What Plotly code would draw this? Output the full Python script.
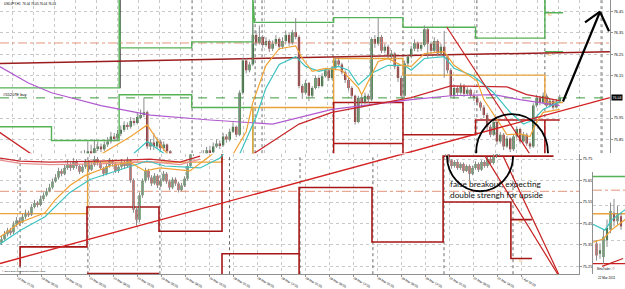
import plotly.graph_objects as go

W, H = 625, 289

# ============ main window: USDJPY,H1 (bar index, price) ============
top_first_bar = 24
top_first_open = 75.780
top_close = [75.771, 75.780, 75.794, 75.785, 75.808, 75.817, 75.803, 75.826, 75.840, 75.863, 75.854, 75.876,
             75.895, 75.918, 75.909, 75.936, 75.927, 75.955, 75.964, 75.977,
             75.817,
             75.835, 75.817, 75.840, 75.808, 75.826,
             75.794, 75.771, 75.748, 75.762, 75.734, 75.725, 75.744, 75.716, 75.734, 75.757, 75.771,
             75.780, 75.799, 75.790, 75.817, 75.831, 75.822,
             75.863, 75.849, 75.886, 75.909, 75.872,
             76.069, 76.221, 76.175, 76.202, 76.340,
             76.303, 76.331, 76.294, 76.312, 76.276, 76.299, 76.322, 76.285,
             76.312, 76.340, 76.303, 76.354, 76.331,
             76.101,
             76.069, 76.115, 76.055, 76.092, 76.138, 76.101,
             76.147, 76.175, 76.138, 76.184, 76.221, 76.202, 76.166,
             76.129, 76.092, 76.055, 75.932,
             76.046,
             76.023, 76.055, 76.037,
             76.322,
             76.299, 76.331, 76.267, 76.285, 76.239, 76.253,
             76.193, 76.138, 76.055,
             76.207, 76.239, 76.276,
             76.303, 76.276, 76.294,
             76.367,
             76.299, 76.267, 76.312, 76.253, 76.285,
             76.239,
             76.175, 76.055,
             76.092, 76.069, 76.101, 76.064, 76.083, 76.055,
             76.046, 76.023, 76.000,
             75.964, 75.909, 75.872,
             75.932, 75.840,
             75.872, 75.817, 75.854, 75.803,
             75.863, 75.899, 75.840, 75.872, 75.831,
             75.817,
             76.009,
             76.046, 76.023,
             76.055, 76.009, 76.032, 76.000, 76.028, 76.045]
top_high = [75.795, 75.800, 75.840, 75.825, 75.850, 75.840, 75.830, 75.840, 75.860, 75.885, 75.880, 75.895,
            75.915, 75.935, 75.930, 75.955, 75.950, 75.975, 75.990, 76.046,
            75.985,
            75.850, 75.880, 75.860, 75.850, 75.840,
            75.830, 75.800, 75.775, 75.780, 75.770, 75.745, 75.760, 75.750, 75.750, 75.770, 75.790,
            75.800, 75.815, 75.820, 75.835, 75.850, 75.845,
            75.880, 75.875, 75.900, 75.930, 75.915,
            76.080, 76.235, 76.230, 76.215, 76.390,
            76.360, 76.385, 76.340, 76.330, 76.320, 76.315, 76.340, 76.330,
            76.330, 76.360, 76.350, 76.365, 76.420,
            76.340,
            76.110, 76.130, 76.120, 76.100, 76.150, 76.145,
            76.160, 76.185, 76.180, 76.195, 76.235, 76.230, 76.210,
            76.175, 76.140, 76.100, 76.060,
            76.055,
            76.060, 76.070, 76.065,
            76.330,
            76.340, 76.420, 76.340, 76.300, 76.295, 76.270,
            76.260, 76.200, 76.150,
            76.220, 76.250, 76.290,
            76.320, 76.310, 76.305,
            76.385,
            76.375, 76.310, 76.330, 76.320, 76.300,
            76.360,
            76.250, 76.185,
            76.105, 76.100, 76.115, 76.110, 76.095, 76.090,
            76.070, 76.055, 76.030,
            76.010, 75.975, 75.920,
            75.945, 75.940,
            75.885, 75.880, 75.865, 75.860,
            75.875, 75.910, 75.905, 75.885, 75.880,
            75.840,
            76.020,
            76.060, 76.055,
            76.070, 76.065, 76.045, 76.040, 76.040, 76.060]
top_low = [75.755, 75.760, 75.770, 75.770, 75.775, 75.795, 75.790, 75.795, 75.815, 75.830, 75.840, 75.845,
           75.865, 75.885, 75.895, 75.900, 75.915, 75.920, 75.945, 75.955,
           75.805,
           75.800, 75.800, 75.805, 75.790, 75.795,
           75.780, 75.755, 75.735, 75.740, 75.720, 75.705, 75.715, 75.700, 75.710, 75.725, 75.750,
           75.760, 75.770, 75.780, 75.785, 75.810, 75.805,
           75.815, 75.835, 75.840, 75.880, 75.860,
           75.865, 76.060, 76.160, 76.165, 76.195,
           76.290, 76.295, 76.280, 76.285, 76.260, 76.265, 76.290, 76.270,
           76.275, 76.300, 76.290, 76.295, 76.320,
           76.090,
           76.040, 76.060, 76.030, 76.045, 76.085, 76.090,
           76.095, 76.140, 76.125, 76.130, 76.175, 76.190, 76.155,
           76.115, 76.080, 76.040, 75.920,
           75.925,
           76.000, 76.015, 76.020,
           76.030,
           76.280, 76.290, 76.255, 76.255, 76.225, 76.230,
           76.180, 76.120, 76.040,
           76.050, 76.195, 76.230,
           76.265, 76.260, 76.265,
           76.285,
           76.230, 76.250, 76.260, 76.240, 76.245,
           76.140,
           76.160, 76.045,
           76.040, 76.055, 76.060, 76.050, 76.055, 76.045,
           76.030, 76.010, 75.985,
           75.950, 75.895, 75.860,
           75.865, 75.825,
           75.830, 75.800, 75.810, 75.790,
           75.795, 75.855, 75.830, 75.835, 75.820,
           75.805,
           75.810,
           76.000, 76.010,
           76.015, 76.000, 76.000, 75.990, 75.995, 76.020]

purple_i = [-1, 8, 15, 30, 45, 63, 82, 100, 124, 136, 149, 157, 169]
purple_p = [76.195, 76.115, 76.069, 76.009, 75.964, 75.941, 75.922, 75.991, 76.037, 76.055, 76.060, 76.037, 76.009]
redma_i = [-1, 9, 20, 50, 76, 90, 100, 124, 136, 153, 159, 169]
redma_p = [75.886, 75.780, 75.750, 75.745, 75.780, 75.922, 75.977, 76.046, 76.101, 76.097, 76.060, 76.032]
orange_i = [30, 33, 39, 44, 49, 52, 66, 70, 74, 76, 80, 84, 89, 91, 94, 98, 103, 108, 109, 114,
            117, 121, 124, 128, 134, 137, 144, 146, 149, 153, 157, 160, 162, 164, 169]
orange_p = [75.780, 75.808, 75.863, 75.918, 75.803, 75.748, 75.748, 75.780, 75.886, 76.023, 76.198, 76.276,
            76.289, 76.230, 76.170, 76.184, 76.175, 76.092, 76.060, 76.216, 76.230, 76.198, 76.193, 76.253,
            76.262, 76.198, 76.124, 76.037, 75.964, 75.872, 75.876, 75.863, 75.932, 75.977, 75.991]
cyan_i = [39, 44, 49, 54, 69, 72, 77, 80, 84, 89, 92, 96, 102, 105, 108, 112, 117, 122, 124, 128,
          134, 137, 143, 149, 154, 158, 161, 164, 169]
cyan_p = [75.771, 75.840, 75.785, 75.734, 75.734, 75.780, 75.955, 76.092, 76.202, 76.239, 76.193, 76.170,
          76.193, 76.175, 76.106, 76.161, 76.198, 76.198, 76.175, 76.230, 76.239, 76.184, 76.147, 76.069,
          75.977, 75.922, 75.941, 75.991, 76.028]
gup_i = [-1, 35.5, 35.5, 35.8, 57.5, 57.5, 76, 76, 76.5, 100.5, 100.5, 121.5, 121.5, 143.5, 143.5, 164.5, 164.5, 164.6, 170]
gup_p = [76.092, 76.092, 76.52, 76.280, 76.280, 76.308, 76.308, 76.52, 76.400, 76.400, 76.422, 76.422, 76.377,
         76.377, 76.326, 76.326, 76.52, 76.445, 76.445]
glo_i = [-1, 15, 15, 35.5, 35.5, 57.5, 57.5, 76, 76, None, 164.5, 170]
glo_p = [75.909, 75.909, 75.845, 75.845, 76.060, 76.060, 76.000, 76.000, 75.70, None, 76.262, 76.262]
ostep_i = [76, 76, 100.5, 100.5, 121.5, 121.5, 164.5, 164.5, 170]
ostep_p = [75.70, 76.000, 76.000, 76.230, 76.230, 76.152, 76.152, 76.023, 76.023]
rtop_i = [100.5, 100.5, 121.5, 121.5, None, 121.5, 143.5, 143.5, 169, None, 100.5, 121.5, None, 164.5, 164.5]
rtop_p = [75.70, 76.023, 76.023, 75.70, None, 75.872, 75.872, 75.941, 75.941, None, 75.831, 75.831, None, 75.941, 75.70]
top_day_sep = [57.6, 76.7, 78.8, 100.3, 121.5, 143.9, 164.5, 181.8]
top_black_sep = 35.8
top_levels = {"resist": 76.303, "order": 76.045}
top_redline_i = [-0.6, 184.2]
top_redline_p = [76.207, 76.262]
trend_i = [-0.6, 184.2]
trend_p = [75.266, 76.046]
steep_i = [134.8, 162.3]
steep_p = [76.377, 75.725]
top_price_ticks = [75.85, 75.95, 76.15, 76.25, 76.35, 76.45]   # 76.05 is hidden under the bid box
bid_label = "76.04"

# ============ lower window (bar index, price) ============
bot_first_opens = [75.360, 75.790]
bot_bars = list(range(0, 65)) + list(range(148, 167))
bot_close = [75.377, 75.400, 75.418, 75.409, 75.445, 75.464, 75.455, 75.482, 75.500, 75.491, 75.527, 75.546,
             75.536, 75.564, 75.582, 75.600, 75.618, 75.646, 75.664, 75.695, 75.682, 75.709,
             75.727, 75.709, 75.741, 75.718, 75.691, 75.714, 75.736, 75.700, 75.723, 75.750, 75.732, 75.709,
             75.682, 75.718, 75.741, 75.727, 75.695, 75.714, 75.736, 75.718, 75.745,
             75.650, 75.514, 75.468, 75.582, 75.650, 75.695,
             75.664, 75.636, 75.673, 75.627, 75.650, 75.682, 75.646, 75.618, 75.655, 75.636, 75.605, 75.627, 75.659,
             75.718, 75.773, 75.809,
             75.773, 75.745, 75.718, 75.736, 75.709, 75.727, 75.695, 75.718, 75.682, 75.709, 75.727, 75.700,
             75.736, 75.718, 75.750, 75.732, 75.764, 75.773, 75.800]
bot_high = [75.395, 75.415, 75.430, 75.430, 75.460, 75.480, 75.475, 75.495, 75.515, 75.510, 75.540, 75.560,
            75.555, 75.580, 75.595, 75.615, 75.635, 75.660, 75.680, 75.710, 75.705, 75.725,
            75.745, 75.735, 75.755, 75.750, 75.725, 75.725, 75.750, 75.745, 75.735, 75.765, 75.760, 75.740,
            75.715, 75.730, 75.755, 75.750, 75.735, 75.725, 75.750, 75.745, 75.760,
            75.750, 75.660, 75.530, 75.595, 75.660, 75.710,
            75.705, 75.675, 75.685, 75.680, 75.660, 75.695, 75.690, 75.655, 75.665, 75.665, 75.645, 75.640, 75.670,
            75.730, 75.785, 75.820,
            75.800, 75.780, 75.750, 75.745, 75.745, 75.735, 75.735, 75.725, 75.725, 75.720, 75.740, 75.735,
            75.745, 75.745, 75.760, 75.760, 75.775, 75.790, 75.815]
bot_low = [75.350, 75.370, 75.390, 75.395, 75.400, 75.435, 75.440, 75.450, 75.470, 75.480, 75.485, 75.520,
           75.525, 75.530, 75.555, 75.575, 75.595, 75.610, 75.640, 75.655, 75.670, 75.675,
           75.700, 75.695, 75.700, 75.705, 75.680, 75.685, 75.705, 75.690, 75.695, 75.715, 75.720, 75.700,
           75.670, 75.675, 75.710, 75.715, 75.685, 75.685, 75.705, 75.705, 75.710,
           75.640, 75.500, 75.440, 75.455, 75.570, 75.640,
           75.650, 75.625, 75.630, 75.615, 75.620, 75.645, 75.635, 75.605, 75.610, 75.625, 75.595, 75.600, 75.620,
           75.650, 75.710, 75.765,
           75.760, 75.735, 75.705, 75.710, 75.700, 75.700, 75.685, 75.690, 75.650, 75.675, 75.700, 75.690,
           75.695, 75.710, 75.710, 75.725, 75.725, 75.755, 75.765]
bot_orange_i = [-0.5, 6.2, 14.5, 17.8, 22.8, 27.8, 36.2, 42.8, 47.8, 52.8, 62.8, 69.5, 72.8]
bot_orange_p = [75.387, 75.455, 75.500, 75.559, 75.627, 75.673, 75.718, 75.736, 75.695, 75.709, 75.695, 75.764, 75.809]
bot_cyan_i = [-0.5, 6.2, 14.5, 17.8, 22.8, 29.5, 39.5, 48.5, 54.5, 66.2, 72.8, 76.2]
bot_cyan_p = [75.355, 75.418, 75.482, 75.527, 75.595, 75.655, 75.700, 75.741, 75.718, 75.709, 75.755, 75.809]
bot_red_i = [-0.5, 6.2, 16.2, 32.8, 49.5, 59.5, 66.2]
bot_red_p = [75.755, 75.741, 75.736, 75.741, 75.750, 75.736, 75.764]
bot_pink_p = [75.745, 75.730, 75.724, 75.728, 75.738, 75.724, 75.750]
bot_ostep_i = [-0.5, 28.7, 28.7, 73.5, 73.5]
bot_ostep_p = [75.496, 75.496, 75.736, 75.736, 75.80]
bot_rstep_i = [6.2, 6.2, 28.5, 28.5, 52.5, 52.5, 73.5, 73.5, None,
               28.5, 52.5, None,
               73.5, 73.5, 99.2, None,
               99.2, 99.2, 123.5, 123.5, 147.2, 147.2, 184, None,
               147.2, 169.8, 169.8, 176.8, None,
               169.8, 176.8]
bot_rstep_p = [75.25, 75.341, 75.341, 75.527, 75.527, 75.414, 75.414, 75.80, None,
               75.217, 75.217, None,
               75.20, 75.309, 75.309, None,
               75.20, 75.618, 75.618, 75.364, 75.364, 75.764, 75.764, None,
               75.550, 75.550, 75.287, 75.287, None,
               75.468, 75.468]
bot_level = 75.600
bot_trend_i = [-0.5, 202.8]
bot_trend_p = [75.264, 76.036]
bot_steep1_i = [161.2, 186.2]
bot_steep1_p = [75.764, 75.196]
bot_steep2_i = [167.2, 186.5]
bot_steep2_p = [75.764, 75.191]
bot_day_sep = [6.2, 28.8, 52.8, 76.0, 99.5, 123.8, 147.5, 170.5]
bot_price_ticks = [75.25, 75.35, 75.45, 75.55, 75.65, 75.75]
bot_tick_labels = ["22 Mar 21:00", "23 Mar 06:00", "23 Mar 16:00", "24 Mar 00:00", "24 Mar 08:00",
                   "24 Mar 16:00", "25 Mar 00:00", "25 Mar 08:00", "25 Mar 16:00", "28 Mar 01:00",
                   "28 Mar 09:00", "28 Mar 17:00", "29 Mar 01:00", "29 Mar 09:00", "29 Mar 17:00",
                   "30 Mar 01:00", "30 Mar 09:00", "30 Mar 17:00", "31 Mar 01:00", "31 Mar 09:00",
                   "31 Mar 18:00", "1 Apr 02:00"]

# ============ small third window ============
th_bars = [1, 2, 3, 4, 5, 6, 7, 8]
th_open = [75.49, 75.46, 75.45, 75.50, 75.53, 75.58, 75.555, 75.57]
th_close = [75.455, 75.47, 75.51, 75.535, 75.585, 75.555, 75.575, 75.54]
th_high = [75.50, 75.49, 75.53, 75.56, 75.61, 75.62, 75.60, 75.58]
th_low = [75.44, 75.445, 75.43, 75.48, 75.52, 75.54, 75.545, 75.53]
th_green, th_dash, th_orange_lvl, th_red_lvl = 75.686, 75.646, 75.577, 75.431
th_cyan_i = [0, 3.4, 5.4, 9.2]
th_cyan_p = [75.546, 75.529, 75.560, 75.589]
th_orma_i = [0, 2.9, 5.4, 9.2]
th_orma_p = [75.494, 75.503, 75.531, 75.560]
th_diag_i = [2.6, 8.6]
th_diag_p = [75.423, 75.446]

# ---------------------------------------------------------------
BULL, BEAR, WICK = "#1f6b25", "#9e1a1a", "#8c8c8c"
top_bars = list(range(top_first_bar, top_first_bar + len(top_close)))
top_open = [top_first_open] + top_close[:-1]
bot_open = []
for n, (b, c) in enumerate(zip(bot_bars, bot_close)):
    if n == 0 or bot_bars[n - 1] != b - 1:
        bot_open.append(bot_first_opens[0 if n == 0 else 1])
    else:
        bot_open.append(bot_close[n - 1])

fig = go.Figure()


def candles(bars, o, h, l, c, xa, ya, bw=0.7):
    wx, wy = [], []
    for b, hi, lo in zip(bars, h, l):
        wx += [b, b, None]
        wy += [lo, hi, None]
    fig.add_trace(go.Scatter(x=wx, y=wy, mode="lines", line=dict(color=WICK, width=1),
                             xaxis=xa, yaxis=ya, hoverinfo="skip"))
    base = [min(a, b) for a, b in zip(o, c)]
    hgt = [max(abs(b - a), 0.0025) for a, b in zip(o, c)]
    cols = [BULL if b >= a else BEAR for a, b in zip(o, c)]
    fig.add_trace(go.Bar(x=bars, y=hgt, base=base, width=bw, marker=dict(color=cols, line=dict(width=0)),
                         xaxis=xa, yaxis=ya))


def line(x, y, xa, ya, color, width=1.2, dash="solid"):
    fig.add_trace(go.Scatter(x=x, y=y, mode="lines", line=dict(color=color, width=width, dash=dash),
                             xaxis=xa, yaxis=ya, hoverinfo="skip", connectgaps=False))


def vlines(xs, lo, hi):
    vx, vy = [], []
    for s in xs:
        vx += [s, s, None]
        vy += [lo, hi, None]
    return vx, vy


# ---- top window ----
TOPR = [75.785, 76.505]
vx, vy = vlines(top_day_sep, *TOPR)
line(vx, vy, "x", "y", "#6a6a6a", 1, "dot")
line([top_black_sep, top_black_sep], [76.09, TOPR[1]], "x", "y", "#202020", 1)
line([-0.6, 184.2], [top_levels["resist"]] * 2, "x", "y", "#e4957c", 1, "dashdot")
line([-0.6, 184.2], [top_levels["order"]] * 2, "x", "y", "#3c9a3c", 1, "dash")
line(gup_i, gup_p, "x", "y", "#55b155", 1.4)
line(glo_i, glo_p, "x", "y", "#55b155", 1.4)
line(ostep_i, ostep_p, "x", "y", "#eaa23a", 1.4)
line(rtop_i, rtop_p, "x", "y", "#b01818", 1.5)
line(top_redline_i, top_redline_p, "x", "y", "#9b1c1c", 1.5)
candles(top_bars, top_open, top_high, top_low, top_close, "x", "y")
line(purple_i, purple_p, "x", "y", "#b05ad0", 1.2)
line(redma_i, redma_p, "x", "y", "#c8282d", 1.3)
line(cyan_i, cyan_p, "x", "y", "#3cc3c0", 1.2)
line(orange_i, orange_p, "x", "y", "#f0a235", 1.2)
line(trend_i, trend_p, "x", "y", "#d42020", 1.4)
line(steep_i, steep_p, "x", "y", "#c62020", 1.2)

# ---- lower window ----
BOTR = [75.214, 75.773]
vx, vy = vlines(bot_day_sep, *BOTR)
line(vx, vy, "x2", "y2", "#6a6a6a", 1, "dot")
line([-0.5, 192.5], [bot_level] * 2, "x2", "y2", "#e4957c", 1, "dashdot")
line(bot_ostep_i, bot_ostep_p, "x2", "y2", "#eaa23a", 1.4)
line(bot_rstep_i, bot_rstep_p, "x2", "y2", "#a51616", 1.6)
candles(bot_bars, bot_open, bot_high, bot_low, bot_close, "x2", "y2")
line(bot_red_i, bot_pink_p, "x2", "y2", "#e89090", 1.2)
line(bot_red_i, bot_red_p, "x2", "y2", "#c8282d", 1.3)
line(bot_cyan_i, bot_cyan_p, "x2", "y2", "#3cc3c0", 1.2)
line(bot_orange_i, bot_orange_p, "x2", "y2", "#f0a235", 1.2)
line(bot_trend_i, bot_trend_p, "x2", "y2", "#d42020", 1.4)
line(bot_steep1_i, bot_steep1_p, "x2", "y2", "#c62020", 1.2)
line(bot_steep2_i, bot_steep2_p, "x2", "y2", "#c62020", 1.2)

# ---- third window ----
line([0, 9.2], [th_green] * 2, "x3", "y3", "#55b155", 1.4)
line([0, 9.2], [th_dash] * 2, "x3", "y3", "#e4957c", 1, "dashdot")
line([0, 9.2], [th_orange_lvl] * 2, "x3", "y3", "#eaa23a", 1.4)
line([0, 9.2], [th_red_lvl] * 2, "x3", "y3", "#c62020", 1.3)
candles(th_bars, th_open, th_high, th_low, th_close, "x3", "y3", 0.6)
line(th_cyan_i, th_cyan_p, "x3", "y3", "#3cc3c0", 1.2)
line(th_orma_i, th_orma_p, "x3", "y3", "#f0a235", 1.2)
line(th_diag_i, th_diag_p, "x3", "y3", "#c62020", 1.2)

# ---------------------------------------------------------------
GRID = dict(showgrid=True, gridcolor="#c9c9c9", griddash="dot", gridwidth=1, zeroline=False)
TF = dict(family="Liberation Sans, Arial", size=3.8, color="#000")
top_grid_x = [3.3 + 6.36 * k for k in range(30)]
bot_ticks = [5.2 + 8 * k for k in range(len(bot_tick_labels))]

fig.update_layout(
    width=W, height=H, margin=dict(l=0, r=0, t=0, b=0), autosize=False,
    paper_bgcolor="white", plot_bgcolor="white", showlegend=False, barmode="overlay",
    xaxis=dict(domain=[0, 610 / W], range=[-0.606, 184.24], tickvals=top_grid_x, showticklabels=False,
               ticks="", showline=False, anchor="y", **GRID),
    yaxis=dict(domain=[1 - 157 / H, 1], range=TOPR, side="right", anchor="x",
               tickvals=top_price_ticks, ticktext=["%.2f" % v for v in top_price_ticks],
               tickfont=TF, ticks="outside", ticklen=2, tickcolor="#909090",
               showline=True, linecolor="#909090", linewidth=1, **GRID),
    xaxis2=dict(domain=[0, 579 / W], range=[-0.5, 192.5], anchor="y2", tickvals=bot_ticks,
                ticktext=bot_tick_labels, ticklabelposition="outside right",
                tickfont=dict(family="Liberation Sans, Arial", size=3.1, color="#000"),
                ticks="outside", ticklen=2, tickcolor="#909090", showline=True, linecolor="#909090", **GRID),
    yaxis2=dict(domain=[1 - 281 / H, 1 - 158 / H], range=BOTR, side="right", anchor="x2",
                tickvals=bot_price_ticks, ticktext=["%.2f" % v for v in bot_price_ticks],
                tickfont=TF, ticks="outside", ticklen=2, tickcolor="#909090",
                showline=True, linecolor="#909090", linewidth=1, **GRID),
    xaxis3=dict(domain=[593 / W, 1], range=[0, 9.14], anchor="y3", showticklabels=False, ticks="",
                showgrid=False, zeroline=False, showline=False),
    yaxis3=dict(domain=[1 - 281 / H, 1 - 176 / H], range=[75.40, 75.70], anchor="x3", side="left",
                showticklabels=False, ticks="", showline=True, linecolor="#909090", **GRID),
)


def P(x, y):
    return f"{x / W:.5f},{1 - y / H:.5f}"


def ann(x, y, text, size, color="#000", anchor="left", family="Liberation Sans, Arial", **kw):
    fig.add_annotation(x=x / W, y=1 - y / H, xref="paper", yref="paper", text=text, showarrow=False,
                       xanchor=anchor, yanchor="middle", font=dict(size=size, color=color, family=family), **kw)


ann(2, 4, "USDJPY,H1  76.04 76.05 76.04 76.04", 3.1)
ann(1, 97, "#55207E buy", 4)
ann(0, 278, "© 2001-2011 MetaQuotes Software Corp.", 2.4)
ann(595, 276, "MetaTrader - ©", 2.6)
ann(596, 285, "22 Mar 2011", 3.1)
ann(546, 15, "R2", 3, "#e8a040")
ann(546, 56, "S2", 3, "#e8a040")
ann(517, 227, "R1", 3, "#e8a040")
ann(517, 267, "S1", 3, "#e8a040")
fig.add_annotation(x=611 / W, y=top_close[-1], xref="paper", yref="y", text=bid_label, showarrow=False,
                   xanchor="left", yanchor="middle", bgcolor="#000", borderpad=0.6,
                   font=dict(size=3.6, color="#fff", family="Liberation Sans, Arial"))
ann(448, 189, "false breakout, expecting", 8.3, "#111", family="Lato")
ann(448, 200, "double strengh for upside", 8.3, "#111", family="Lato")

k = 0.5523
cx, cy, rx, ry = 512, 157, 36, 40
upper = (f"M {P(cx - rx, cy)} C {P(cx - rx, cy - ry * k)} {P(cx - rx * k, cy - ry)} {P(cx, cy - ry)} "
         f"C {P(cx + rx * k, cy - ry)} {P(cx + rx, cy - ry * k)} {P(cx + rx, cy)}")
cx, cy, rx, ry = 480, 160, 33, 36
lower = (f"M {P(cx - rx, cy)} C {P(cx - rx, cy + ry * k)} {P(cx - rx * k, cy + ry)} {P(cx, cy + ry)} "
         f"C {P(cx + rx * k, cy + ry)} {P(cx + rx, cy + ry * k)} {P(cx + rx, cy)}")
for p in (upper, lower):
    fig.add_shape(type="path", path=p, xref="paper", yref="paper", line=dict(color="#000", width=1.8),
                  layer="above")
for (x0, y0, x1, y1) in [(563, 104, 600, 12), (600, 12, 585, 23), (600, 12, 609, 32)]:
    fig.add_shape(type="line", x0=x0 / W, y0=1 - y0 / H, x1=x1 / W, y1=1 - y1 / H, xref="paper", yref="paper",
                  line=dict(color="#000", width=2.2), layer="above")

fig.write_html("out.html")
